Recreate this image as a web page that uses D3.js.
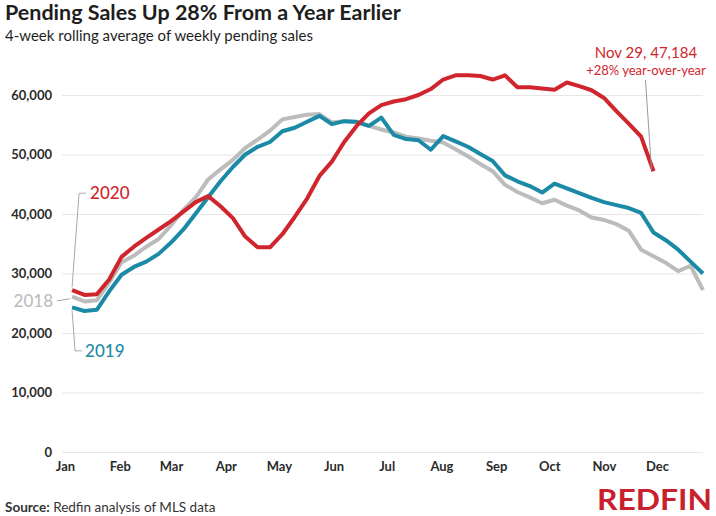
<!DOCTYPE html>
<html>
<head>
<meta charset="utf-8">
<script src="https://cdn.jsdelivr.net/npm/d3@7"></script>
<style>
  body { margin: 0; background: #fff; }
  text { font-family: Lato, "Open Sans", sans-serif; }
</style>
</head>
<body>
<svg id="chart" width="716" height="516"></svg>
<script>
// weekly points, 4-week rolling average of pending sales (week ending on Sunday, from Jan 5)
let sales2018 = [26100, 25300, 25500, 28500, 31900, 33000, 34500, 35800, 38100, 40700,
  42800, 45800, 47500, 49100, 51100, 52500, 54000, 55900, 56300, 56700,
  56800, 55400, 55600, 55400, 54800, 54200, 53700, 53000, 52700, 52300,
  52000, 50900, 49700, 48400, 47200, 44900, 43700, 42800, 41800, 42400,
  41400, 40600, 39400, 39000, 38300, 37200, 34000, 32900, 31800, 30400,
  31300, 27200];
let sales2019 = [24300, 23700, 23900, 27000, 29800, 31100, 32000, 33300, 35200, 37400,
  40100, 42800, 45500, 47900, 50000, 51300, 52100, 53900, 54500, 55500,
  56500, 55100, 55600, 55500, 54800, 56200, 53300, 52600, 52400, 50800,
  53100, 52200, 51300, 50100, 48900, 46500, 45500, 44700, 43600, 45100,
  44300, 43500, 42700, 42000, 41500, 41000, 40200, 36900, 35600, 34000,
  32000, 30000];
let sales2020 = [27200, 26400, 26500, 29000, 32800, 34500, 36000, 37400, 38800, 40400,
  42000, 43000, 41300, 39300, 36200, 34400, 34400, 36600, 39500, 42600,
  46400, 48800, 52100, 54800, 56900, 58300, 58900, 59300, 60000, 61000,
  62600, 63300, 63300, 63200, 62600, 63300, 61300, 61300, 61100, 60900,
  62100, 61500, 60800, 59500, 57300, 55200, 53000, 47184];

let monthLabels = ['Jan', 'Feb', 'Mar', 'Apr', 'May', 'Jun', 'Jul', 'Aug', 'Sep', 'Oct', 'Nov', 'Dec'];
let yTicks = [0, 10000, 20000, 30000, 40000, 50000, 60000];

const red = '#d0252d';
const blue = '#1b8aa6';
const grey = '#bcbcbc';

const svg = d3.select('#chart');

let firstWeek = new Date(2020, 0, 5);
let weekDate = i => d3.timeDay.offset(firstWeek, 7 * i);

let xScale = d3.scaleTime()
  .domain([new Date(2020, 0, 1), new Date(2021, 0, 1)])
  .range([65, 711.8]);

let yScale = d3.scaleLinear()
  .domain([0, 60000])
  .range([452, 95]);

// gridlines + y labels
let yAxis = d3.axisLeft(yScale)
  .tickValues(yTicks)
  .tickSize(-(703 - 62))
  .tickFormat(d3.format(','));

svg.append('g')
  .attr('transform', 'translate(62,0)')
  .call(yAxis)
  .call(g => g.select('.domain').remove())
  .call(g => g.selectAll('.tick line').attr('stroke', '#e6e6e6').attr('stroke-width', 1))
  .call(g => g.selectAll('.tick text')
    .attr('x', -10)
    .attr('fill', '#2b2b2b')
    .attr('font-size', 13)
    .attr('font-weight', 'bold'));

// month labels
let xAxis = d3.axisBottom(xScale)
  .tickValues(d3.range(12).map(m => new Date(2020, m, 1)))
  .tickSize(0)
  .tickFormat((d, i) => monthLabels[i]);

svg.append('g')
  .attr('transform', 'translate(0,459)')
  .call(xAxis)
  .call(g => g.select('.domain').remove())
  .call(g => g.selectAll('.tick text')
    .attr('fill', '#2b2b2b')
    .attr('font-size', 13)
    .attr('font-weight', 'bold'));

let line = d3.line()
  .x((d, i) => xScale(weekDate(i)))
  .y(d => yScale(d));

let series = [
  { values: sales2018, color: grey },
  { values: sales2019, color: blue },
  { values: sales2020, color: red }
];

svg.selectAll('path.series')
  .data(series)
  .enter()
  .append('path')
    .attr('class', 'series')
    .attr('d', d => line(d.values))
    .attr('fill', 'none')
    .attr('stroke', d => d.color)
    .attr('stroke-width', 4)
    .attr('stroke-linejoin', 'round');

// series labels with leader lines
let x0 = xScale(weekDate(0));
let leader = '#a8a8a8';

svg.append('path')
  .attr('d', `M${x0},${yScale(sales2020[0]) - 3} L${x0 + 7},${yScale(43500)} L${x0 + 14},${yScale(43500)}`)
  .attr('fill', 'none').attr('stroke', leader).attr('stroke-width', 1);
svg.append('text')
  .attr('x', x0 + 18).attr('y', yScale(43500) + 6)
  .attr('fill', red).attr('font-size', 17).attr('font-weight', 500)
  .text('2020');

svg.append('path')
  .attr('d', `M${x0 - 15},${yScale(25400)} L${x0 - 2},${yScale(sales2018[0]) + 2}`)
  .attr('fill', 'none').attr('stroke', leader).attr('stroke-width', 1);
svg.append('text')
  .attr('x', x0 - 19).attr('y', yScale(25400) + 6)
  .attr('text-anchor', 'end')
  .attr('fill', grey).attr('font-size', 17).attr('font-weight', 500)
  .text('2018');

svg.append('path')
  .attr('d', `M${x0},${yScale(sales2019[0]) + 3} L${x0 + 3},${yScale(17000)} L${x0 + 10},${yScale(17000)}`)
  .attr('fill', 'none').attr('stroke', leader).attr('stroke-width', 1);
svg.append('text')
  .attr('x', x0 + 13).attr('y', yScale(17000) + 6)
  .attr('fill', blue).attr('font-size', 17).attr('font-weight', 500)
  .text('2019');

// end-point annotation
let lastIdx = sales2020.length - 1;
let xEnd = xScale(weekDate(lastIdx));
svg.append('line')
  .attr('x1', xEnd - 8).attr('y1', 80)
  .attr('x2', xEnd - 2).attr('y2', yScale(sales2020[lastIdx]) - 2)
  .attr('stroke', '#999').attr('stroke-width', 1);
svg.append('text')
  .attr('x', 646).attr('y', 58)
  .attr('text-anchor', 'middle')
  .attr('fill', red).attr('font-size', 15)
  .text('Nov 29, ' + d3.format(',')(sales2020[lastIdx]));
svg.append('text')
  .attr('x', 646).attr('y', 75)
  .attr('text-anchor', 'middle')
  .attr('fill', red).attr('font-size', 13)
  .text('+28% year-over-year');

// title block
svg.append('text')
  .attr('x', 5).attr('y', 20)
  .attr('fill', '#1e1e1e').attr('font-size', 21.5).attr('font-weight', 'bold')
  .text('Pending Sales Up 28% From a Year Earlier');
svg.append('text')
  .attr('x', 5).attr('y', 41)
  .attr('fill', '#1e1e1e').attr('font-size', 15)
  .text('4-week rolling average of weekly pending sales');

// source + logo
let src = svg.append('text')
  .attr('x', 5).attr('y', 512)
  .attr('fill', '#333').attr('font-size', 13.5);
src.append('tspan').attr('font-weight', 'bold').text('Source:');
src.append('tspan').text(' Redfin analysis of MLS data');

svg.append('text')
  .attr('x', 597).attr('y', 510)
  .attr('fill', '#c8202d')
  .attr('font-family', '"Liberation Sans Narrow", "Roboto", sans-serif')
  .attr('font-size', 28).attr('font-weight', 'bold')
  .attr('textLength', 115).attr('lengthAdjust', 'spacingAndGlyphs')
  .text('REDFIN');
</script>
</body>
</html>
